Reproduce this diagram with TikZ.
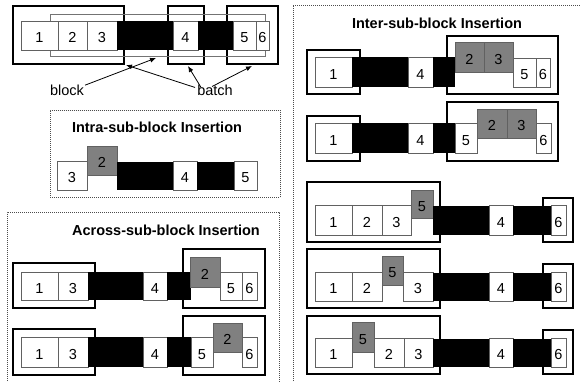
\documentclass[tikz,border=0pt]{standalone}
\usepackage{fontspec}
\setmainfont{Liberation Sans}
\usetikzlibrary{arrows.meta}
\tikzset{
  cell/.style={draw=black!62, line width=0.8pt, fill=white, inner sep=0pt, outer sep=0pt,
    text height=14pt, text depth=0pt, font=\fontsize{14.5}{16}\selectfont},
  gcell/.style={cell, fill=black!50},
  bar/.style={fill=black, inner sep=0pt, outer sep=0pt},
  batchbox/.style={draw=black, line width=1.5pt, inner sep=0pt, outer sep=0pt},
  blockbox/.style={draw=black!55, line width=0.9pt, inner sep=0pt, outer sep=0pt},
  dotbox/.style={draw=black!70, line width=0.6pt, dash pattern=on 1pt off 1pt},
  title/.style={font=\fontsize{14.5}{16}\selectfont\bfseries, inner sep=0pt},
  lbl/.style={font=\fontsize{14.5}{16}\selectfont, inner sep=1pt},
  arr/.style={-{Latex[length=6pt,width=5pt]}, line width=0.8pt},
}
% [style]{name}{x1}{y1}{x2}{y2}{text}
\newcommand\rc[7][cell]{\node[#1, minimum width={(#5-#3)*1pt}, minimum height={(#6-#4)*1pt}, anchor=north west] (#2) at (#3,#4) {#7};}
\begin{document}
\begin{tikzpicture}[x=1pt,y=-1pt]
\clip (0,0) rectangle (580,381);
\fill[white] (0,0) rectangle (580,381);
% dotted frames
\rc[dotbox]{intraframe}{50}{110}{280}{197}{}
\draw[dotbox] (7,395) |- (279,212) -- (279,395);
\draw[dotbox] (293,395) |- (595,5);
% titles
\node[title] (tintra) at (157,127) {Intra-sub-block Insertion};
\node[title] (tacross) at (166,230) {Across-sub-block Insertion};
\node[title] (tinter) at (437,23) {Inter-sub-block Insertion};

% ---------- top-left ----------
\rc[batchbox]{batchA}{13}{6}{124}{64}{}
\rc[batchbox]{batchB}{168}{6}{204}{64}{}
\rc[batchbox]{batchC}{227}{6}{278}{64}{}
\rc[blockbox]{blockB}{50}{14}{265}{56}{}
\rc{a1}{21}{21}{58}{50}{1}
\rc{a2}{58}{21}{87}{50}{2}
\rc{a3}{87}{21}{117}{50}{3}
\rc[bar]{ab1}{117}{21}{173}{50}{}
\rc{a4}{173}{21}{198}{50}{4}
\rc[bar]{ab2}{198}{21}{233}{50}{}
\rc{a5}{233}{21}{256}{50}{5}
\rc{a6}{256}{21}{269}{50}{6}
\node[lbl] (blocklbl) at (67,90) {block};
\node[lbl] (batchlbl) at (215,90) {batch};
\coordinate (tb) at (156,58);
\coordinate (t1) at (126,65);
\coordinate (t2) at (188,66);
\coordinate (t3) at (252,66);
\draw[arr] (blocklbl.15) -- (tb);
\draw[arr] ([xshift=-1pt,yshift=-4pt]batchlbl.north west) -- (t1);
\draw[arr] ([xshift=5pt,yshift=-4pt]batchlbl.north west) -- (t2);
\draw[arr] ([xshift=16pt,yshift=-3pt]batchlbl.north west) -- (t3);

% ---------- intra ----------
\rc{b3}{57}{161}{87}{190}{3}
\rc[gcell]{b2}{87}{146}{117}{175}{2}
\rc[bar]{bb1}{117}{162}{173}{190}{}
\rc{b4}{173}{161}{197}{190}{4}
\rc[bar]{bb2}{197}{162}{234}{190}{}
\rc{b5}{234}{161}{257}{190}{5}

% ---------- across row 1 ----------
\rc[batchbox]{cL}{13}{263}{95}{308}{}
\rc[batchbox]{cR}{183}{249}{265}{308}{}
\rc{c1}{21}{272}{58}{300}{1}
\rc{c3}{58}{272}{88}{300}{3}
\rc[bar]{cb1}{88}{272}{143}{300}{}
\rc{c4}{143}{272}{167}{300}{4}
\rc[bar]{cb2}{167}{272}{191}{300}{}
\rc[gcell]{c2}{190}{257}{220}{287}{2}
\rc{c5}{220}{272}{242}{300}{5}
\rc{c6}{242}{272}{257}{300}{6}

% ---------- across row 2 ----------
\rc[batchbox]{dL}{13}{329}{95}{375}{}
\rc[batchbox]{dR}{183}{316}{265}{375}{}
\rc{d1}{21}{337}{58}{367}{1}
\rc{d3}{58}{337}{88}{367}{3}
\rc[bar]{db1}{88}{337}{143}{367}{}
\rc{d4}{143}{337}{167}{367}{4}
\rc[bar]{db2}{167}{337}{191}{367}{}
\rc{d5}{191}{337}{213}{367}{5}
\rc[gcell]{d2}{213}{323}{242}{352}{2}
\rc{d6}{242}{337}{257}{367}{6}

% ---------- inter row 1 ----------
\rc[batchbox]{eL}{307}{50}{360}{94}{}
\rc[batchbox]{eR}{447}{36}{558}{94}{}
\rc{e1}{315}{57}{352}{87}{1}
\rc[bar]{eb1}{352}{57}{408}{87}{}
\rc{e4}{408}{57}{433}{87}{4}
\rc[bar]{eb2}{433}{57}{455}{87}{}
\rc[gcell]{e2}{455}{42}{484}{72}{2}
\rc[gcell]{e3}{484}{42}{513}{72}{3}
\rc{e5}{513}{58}{536}{87}{5}
\rc{e6}{536}{58}{550}{87}{6}

% ---------- inter row 2 ----------
\rc[batchbox]{fL}{307}{116}{360}{161}{}
\rc[batchbox]{fR}{447}{102}{558}{161}{}
\rc{f1}{315}{123}{352}{153}{1}
\rc[bar]{fb1}{352}{123}{408}{153}{}
\rc{f4}{408}{123}{433}{153}{4}
\rc[bar]{fb2}{433}{123}{455}{153}{}
\rc{f5}{455}{123}{477}{153}{5}
\rc[gcell]{f2}{477}{109}{507}{138}{2}
\rc[gcell]{f3}{507}{109}{536}{138}{3}
\rc{f6}{536}{123}{551}{153}{6}

% ---------- inter row 3 ----------
\rc[batchbox]{gL}{307}{182}{440}{242}{}
\rc[batchbox]{gR}{543}{198}{573}{242}{}
\rc{g1}{315}{205}{352}{235}{1}
\rc{g2}{352}{205}{382}{235}{2}
\rc{g3}{382}{205}{411}{235}{3}
\rc[gcell]{g5}{411}{190}{433}{218}{5}
\rc[bar]{gb1}{433}{206}{489}{235}{}
\rc{g4}{489}{205}{513}{235}{4}
\rc[bar]{gb2}{513}{206}{551}{235}{}
\rc{g6}{551}{205}{566}{235}{6}

% ---------- inter row 4 ----------
\rc[batchbox]{hL}{307}{249}{440}{308}{}
\rc[batchbox]{hR}{543}{264}{573}{308}{}
\rc{h1}{315}{272}{352}{301}{1}
\rc{h2}{352}{272}{382}{301}{2}
\rc[gcell]{h5}{382}{256}{403}{285}{5}
\rc{h3}{403}{272}{433}{301}{3}
\rc[bar]{hb1}{433}{273}{489}{301}{}
\rc{h4}{489}{272}{513}{301}{4}
\rc[bar]{hb2}{513}{273}{551}{301}{}
\rc{h6}{551}{272}{566}{301}{6}

% ---------- inter row 5 ----------
\rc[batchbox]{iL}{307}{316}{440}{374}{}
\rc[batchbox]{iR}{543}{330}{573}{374}{}
\rc{i1}{315}{338}{352}{367}{1}
\rc[gcell]{i5}{352}{322}{374}{352}{5}
\rc{i2}{374}{338}{404}{367}{2}
\rc{i3}{404}{338}{433}{367}{3}
\rc[bar]{ib1}{433}{339}{489}{367}{}
\rc{i4}{489}{338}{513}{367}{4}
\rc[bar]{ib2}{513}{339}{551}{367}{}
\rc{i6}{551}{338}{566}{367}{6}
\end{tikzpicture}
\end{document}
